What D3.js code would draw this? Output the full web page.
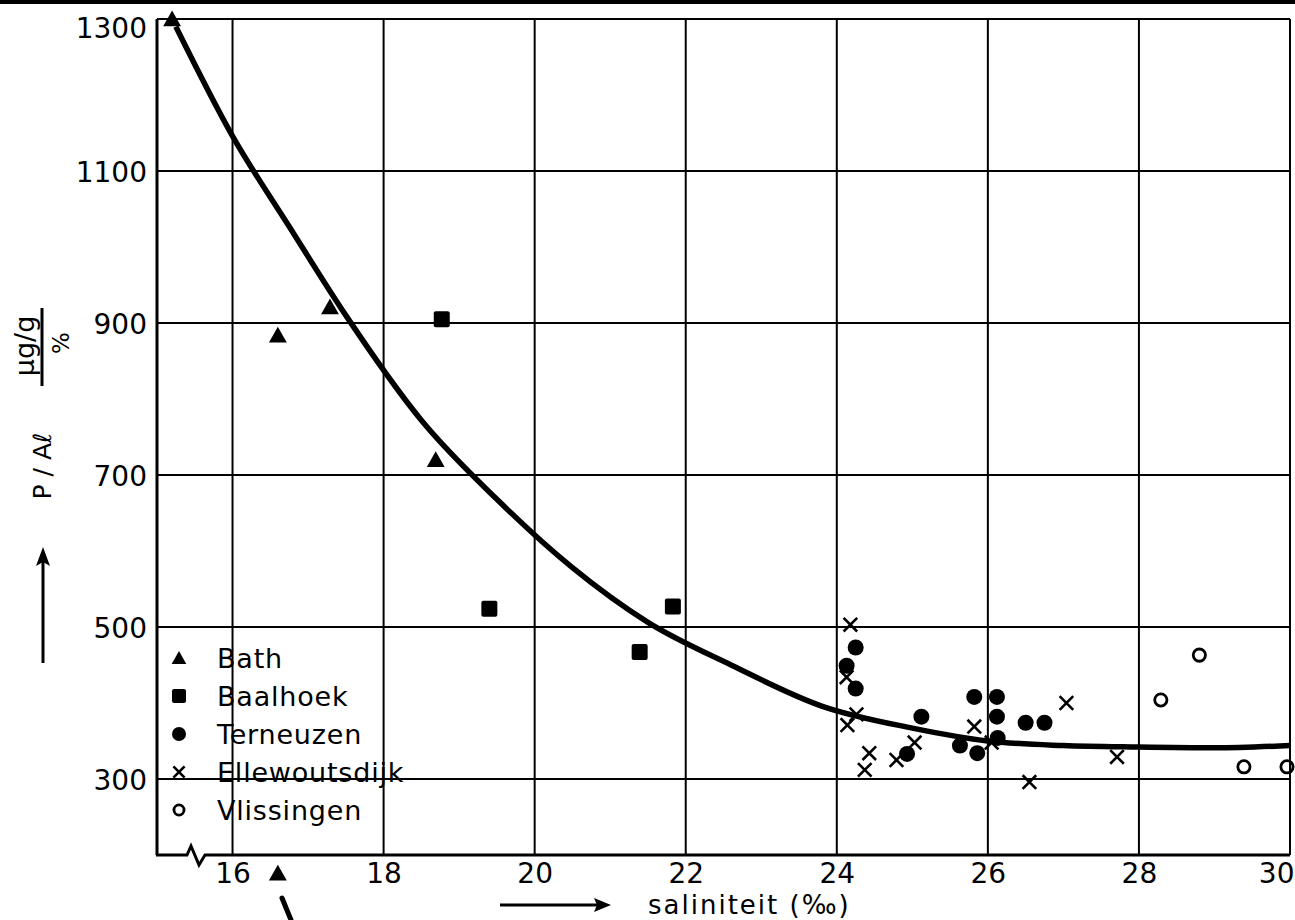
<!DOCTYPE html>
<html lang="nl">
<head>
    <meta charset="UTF-8">
    <title>P/Al tegen saliniteit</title>
    <script src="https://cdn.jsdelivr.net/npm/d3@7/dist/d3.min.js"></script>
    <style>
        body { margin: 0; background: #fff; }
        text { font-family: "DejaVu Sans", sans-serif; fill: #000; }
    </style>
</head>
<body>
<div id="mainContent"></div>
<script>
    // tick values
    const xTicks = [16, 18, 20, 22, 24, 26, 28, 30];
    const yTicks = [300, 500, 700, 900, 1100, 1300];

    // stations (salinity, P/Al)
    const bathS = [15.2, 16.6, 17.29, 18.69, 16.6];
    const bathV = [1300, 884, 921, 720, 176];

    const baalhoekS = [18.77, 19.40, 21.83, 21.39];
    const baalhoekV = [905, 524, 527, 467];

    const terneuzenS = [24.25, 24.13, 24.25, 25.12, 25.82, 26.12, 26.12, 26.13, 25.63, 25.86, 24.93, 26.5, 26.75];
    const terneuzenV = [473, 449, 419, 382, 408, 408, 382, 354, 344, 334, 333, 374, 374];

    const ellewoutsdijkS = [24.18, 24.13, 24.14, 24.26, 24.43, 24.37, 24.79, 25.03, 25.82, 26.05, 27.04, 27.71, 26.55];
    const ellewoutsdijkV = [503, 434, 371, 385, 334, 312, 325, 348, 369, 348, 400, 329, 296];

    const vlissingenS = [28.8, 28.29, 29.39, 29.96];
    const vlissingenV = [463, 404, 316, 316];

    // hand drawn trend curve
    const curveS = [15.25, 16.0, 16.75, 17.5, 18.5, 19.5, 20.5, 21.5, 22.6, 23.8, 25.0, 26.0, 27.0, 28.0, 29.0, 30.0];
    const curveV = [1290, 1146, 1027, 910, 772, 668, 578, 506, 450, 396, 367, 350, 344, 342, 341, 344];

    const legendNames = ["Bath", "Baalhoek", "Terneuzen", "Ellewoutsdijk", "Vlissingen"];
    const legendShapes = ["triangle", "square", "dot", "cross", "ring"];

    const W = 1295, H = 920;
    const plot = {left: 157, right: 1290, top: 19, bottom: 855};

    const x = d3.scaleLinear().domain([15, 30]).range([plot.left, plot.right]);
    const y = d3.scaleLinear().domain([200, 1300]).range([plot.bottom, plot.top]);

    const svg = d3.select("#mainContent").append("svg")
        .attr("width", W)
        .attr("height", H);

    // scan edge at the top
    svg.append("rect").attr("x", 0).attr("y", 0).attr("width", W).attr("height", 4).attr("fill", "#000");

    // grid
    const grid = svg.append("g").attr("stroke", "#000").attr("stroke-width", 2);
    grid.selectAll(".vg").data(xTicks).enter().append("line")
        .attr("x1", d => x(d)).attr("x2", d => x(d))
        .attr("y1", plot.top).attr("y2", plot.bottom);
    grid.selectAll(".hg").data(yTicks).enter().append("line")
        .attr("x1", plot.left).attr("x2", plot.right)
        .attr("y1", d => y(d)).attr("y2", d => y(d));

    // axes (left and bottom, with break mark)
    svg.append("line").attr("x1", plot.left).attr("x2", plot.left).attr("y1", plot.top).attr("y2", plot.bottom)
        .attr("stroke", "#000").attr("stroke-width", 3);
    svg.append("path")
        .attr("d", "M" + (plot.left - 1) + "," + plot.bottom + " L187," + plot.bottom + " L191,846 L199,865 L205," + plot.bottom + " L" + plot.right + "," + plot.bottom)
        .attr("fill", "none").attr("stroke", "#000").attr("stroke-width", 3);

    // tick labels
    const xAxis = d3.axisBottom(x).tickValues(xTicks).tickSize(0).tickPadding(0).tickFormat(d3.format("d"));
    const xAx = svg.append("g").attr("transform", "translate(0," + plot.bottom + ")").call(xAxis);
    xAx.select(".domain").remove();
    xAx.selectAll(".tick text").attr("y", 28).attr("dy", 0)
        .attr("font-size", 28).attr("font-family", "DejaVu Sans").attr("fill", "#000")
        .attr("text-anchor", d => d === 30 ? "end" : "middle")
        .attr("x", d => d === 30 ? 4 : 0);

    const yAxis = d3.axisLeft(y).tickValues(yTicks).tickSize(0).tickPadding(0).tickFormat(d3.format("d"));
    const yAx = svg.append("g").attr("transform", "translate(" + (plot.left - 10) + ",0)").call(yAxis);
    yAx.select(".domain").remove();
    yAx.selectAll(".tick text").attr("dy", d => d === 1300 ? "0.65em" : "0.36em")
        .attr("font-size", 28).attr("font-family", "DejaVu Sans").attr("fill", "#000");

    // axis titles
    svg.append("text").text("saliniteit (‰)")
        .attr("x", 648).attr("y", 914)
        .attr("font-size", 26).attr("letter-spacing", 2);
    svg.append("line").attr("x1", 500).attr("x2", 598).attr("y1", 905).attr("y2", 905)
        .attr("stroke", "#000").attr("stroke-width", 3);
    svg.append("path").attr("d", "M611,905 L594,898 L597,905 L594,912 Z").attr("fill", "#000");

    svg.append("text").text("P / Aℓ")
        .attr("transform", "translate(51,466) rotate(-90)")
        .attr("text-anchor", "middle").attr("font-size", 25);
    svg.append("text").text("μg/g")
        .attr("transform", "translate(34,346) rotate(-90)")
        .attr("text-anchor", "middle").attr("font-size", 27);
    svg.append("line").attr("x1", 42).attr("x2", 42).attr("y1", 308).attr("y2", 386)
        .attr("stroke", "#000").attr("stroke-width", 3);
    svg.append("text").text("%")
        .attr("transform", "translate(69,343) rotate(-90)")
        .attr("text-anchor", "middle").attr("font-size", 23);
    svg.append("line").attr("x1", 43).attr("x2", 43).attr("y1", 663).attr("y2", 560)
        .attr("stroke", "#000").attr("stroke-width", 3);
    svg.append("path").attr("d", "M43,547 L36,566 L43,562 L50,566 Z").attr("fill", "#000");

    // trend curve
    const curvePts = curveS.map((s, i) => [s, curveV[i]]);
    svg.append("path").datum(curvePts)
        .attr("d", d3.line().x(d => x(d[0])).y(d => y(d[1])).curve(d3.curveMonotoneX))
        .attr("fill", "none").attr("stroke", "#000").attr("stroke-width", 5.5)
        .attr("stroke-linejoin", "round");

    // marker drawing
    function marker(g, shape, size) {
        const r = size / 2;
        if (shape === "triangle") {
            g.append("path").attr("d", "M0," + (-r) + " L" + (r * 1.05) + "," + (r * 0.85) + " L" + (-r * 1.05) + "," + (r * 0.85) + " Z")
                .attr("fill", "#000");
        } else if (shape === "square") {
            g.append("rect").attr("x", -r).attr("y", -r).attr("width", size).attr("height", size)
                .attr("rx", 2).attr("fill", "#000");
        } else if (shape === "dot") {
            g.append("circle").attr("r", r).attr("fill", "#000");
        } else if (shape === "cross") {
            const c = r * 0.8;
            g.append("path").attr("d", "M" + (-c) + "," + (-c) + " L" + c + "," + c + " M" + c + "," + (-c) + " L" + (-c) + "," + c)
                .attr("stroke", "#000").attr("stroke-width", 2.6).attr("fill", "none");
        } else {
            g.append("circle").attr("r", r * 0.72).attr("fill", "none").attr("stroke", "#000").attr("stroke-width", 2.8);
        }
    }

    function plotSeries(sArr, vArr, shape, size) {
        const pts = sArr.map((s, i) => [s, vArr[i]]);
        svg.append("g").selectAll("g").data(pts).enter().append("g")
            .attr("transform", d => "translate(" + x(d[0]) + "," + y(d[1]) + ")")
            .each(function () { marker(d3.select(this), shape, size); });
    }

    plotSeries(bathS, bathV, "triangle", 17);
    plotSeries(baalhoekS, baalhoekV, "square", 16);
    plotSeries(terneuzenS, terneuzenV, "dot", 16);
    plotSeries(ellewoutsdijkS, ellewoutsdijkV, "cross", 17);
    plotSeries(vlissingenS, vlissingenV, "ring", 17);

    // off-scale pointer below the Bath point
    svg.append("line").attr("x1", 282).attr("y1", 898).attr("x2", 291).attr("y2", 920)
        .attr("stroke", "#000").attr("stroke-width", 5).attr("stroke-linecap", "round");

    // legend
    const legend = svg.append("g");
    const legendY = d3.scalePoint().domain(legendNames).range([658, 810]);
    legendNames.forEach((name, i) => {
        const row = legend.append("g").attr("transform", "translate(0," + legendY(name) + ")");
        const m = row.append("g").attr("transform", "translate(179,0)");
        marker(m, legendShapes[i], 14);
        row.append("text").text(name).attr("x", 217).attr("y", 10)
            .attr("font-size", 27).attr("letter-spacing", 0.8);
    });
</script>
</body>
</html>
